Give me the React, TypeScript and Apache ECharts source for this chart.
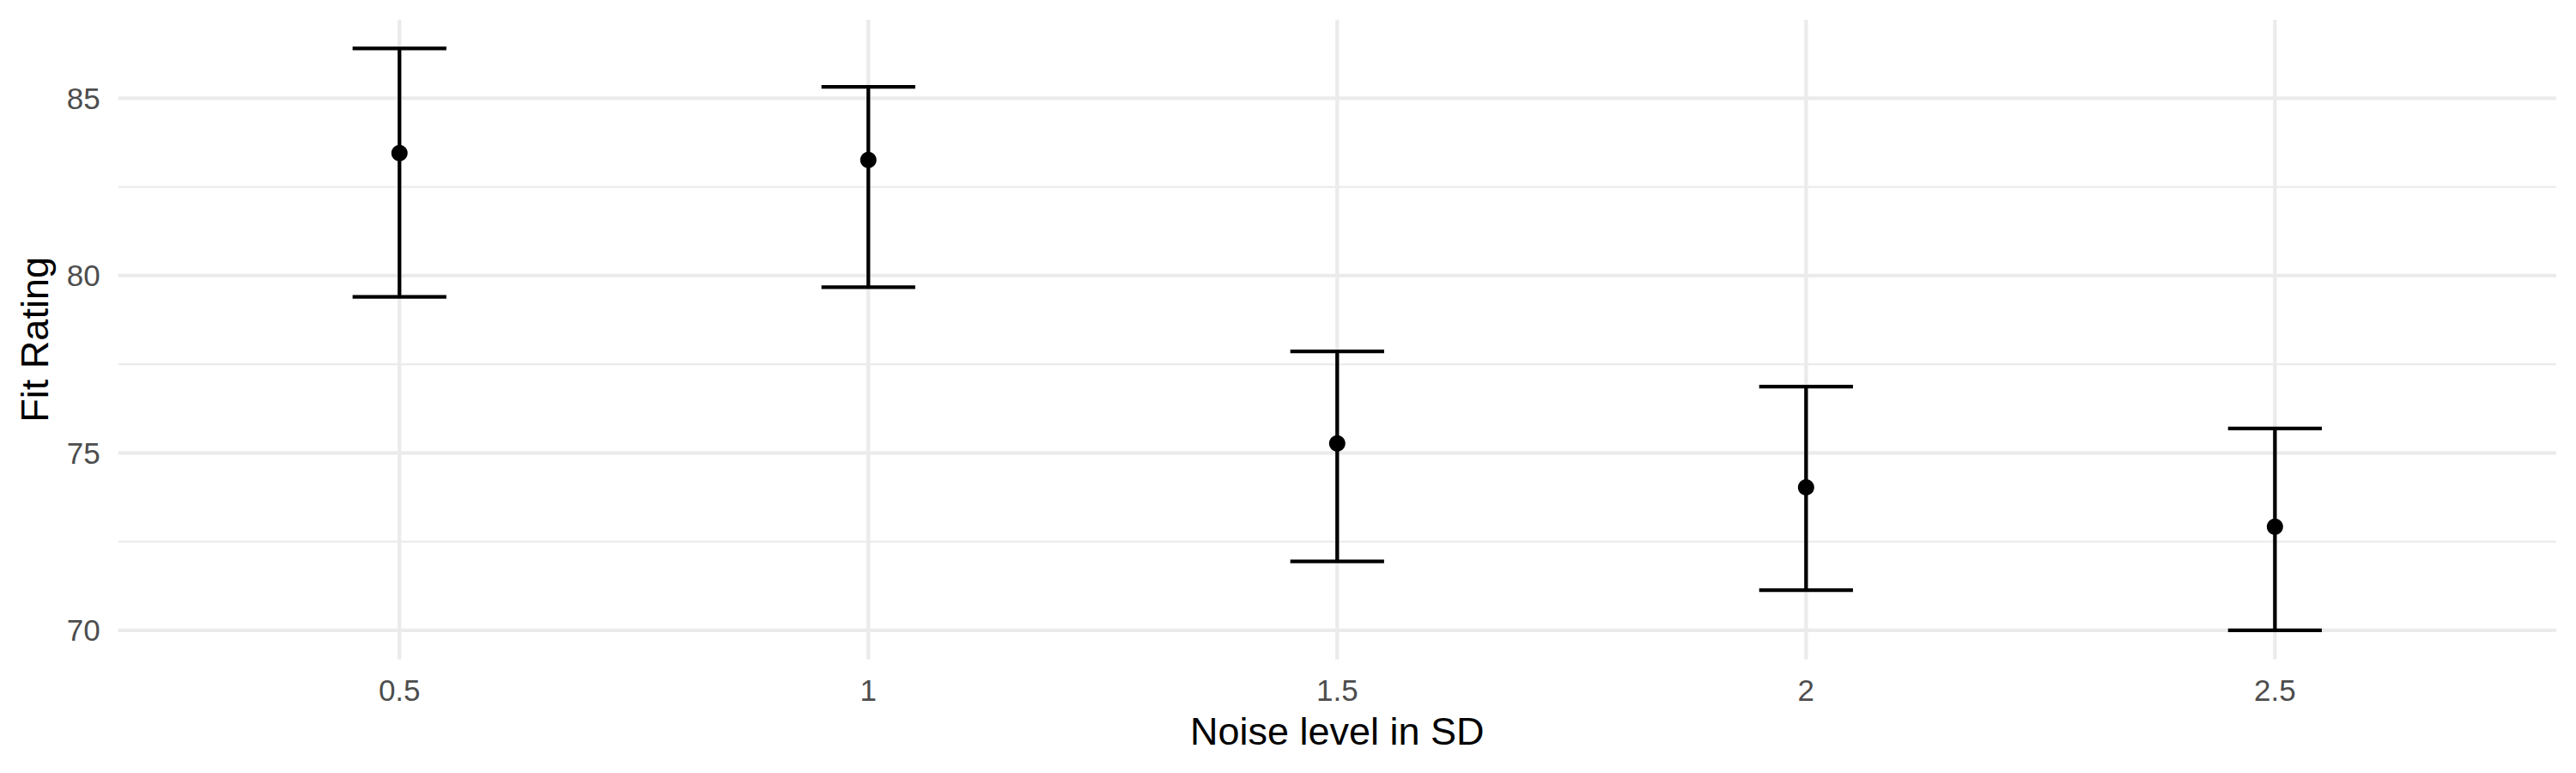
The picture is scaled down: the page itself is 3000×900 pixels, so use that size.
import React, { useEffect, useRef } from "react";
import * as echarts from "echarts";

// Data
const categories = ["0.5", "1", "1.5", "2", "2.5"];
const meanRating = [83.45, 83.26, 75.27, 74.03, 72.92];
const upperRating = [86.4, 85.32, 77.86, 76.87, 75.69];
const lowerRating = [79.4, 79.67, 71.94, 71.13, 70.0];
const yMajorTicks = [70, 75, 80, 85];
const yMinorTicks = [72.5, 77.5, 82.5];

const FONT = "'Liberation Sans', Arial, Helvetica, sans-serif";
const GRID_COLOR = "#EBEBEB";

export default function App() {
  const ref = useRef<HTMLDivElement>(null);

  useEffect(() => {
    const chart = echarts.init(ref.current!, null, { renderer: "svg" });
    const xPos = categories.map((_, i) => i + 1);

    const hGridData = [
      ...yMinorTicks.map((v) => [1, v, 2.2]),
      ...yMajorTicks.map((v) => [1, v, 4.3]),
    ];
    const vGridData = xPos.map((x) => [x, 80, 4.3]);
    const errData = xPos.map((x, i) => [x, lowerRating[i], upperRating[i]]);
    const pointData = xPos.map((x, i) => [x, meanRating[i]]);

    const option: any = {
      animation: false,
      backgroundColor: "#FFFFFF",
      grid: {
        left: 137.6,
        right: 23,
        top: 23,
        bottom: 132.3,
        containLabel: false,
        outerBoundsMode: "none",
      },
      xAxis: {
        type: "value",
        min: 0.4,
        max: 5.6,
        name: "Noise level in SD",
        nameLocation: "middle",
        nameGap: 61,
        nameTextStyle: { fontSize: 45, color: "#000000", fontFamily: FONT },
        axisLine: { show: false },
        axisTick: { show: false, customValues: xPos },
        splitLine: { show: false },
        axisLabel: {
          customValues: xPos,
          formatter: (v: number) => categories[Math.round(v) - 1] ?? "",
          fontSize: 35,
          color: "#4D4D4D",
          fontFamily: FONT,
          margin: 18,
        },
      },
      yAxis: {
        type: "value",
        min: 69.18,
        max: 87.21,
        name: "Fit Rating",
        nameLocation: "middle",
        nameGap: 75,
        nameTextStyle: { fontSize: 45, color: "#000000", fontFamily: FONT },
        axisLine: { show: false },
        axisTick: { show: false, customValues: yMajorTicks },
        splitLine: { show: false },
        axisLabel: {
          customValues: yMajorTicks,
          fontSize: 35,
          color: "#4D4D4D",
          fontFamily: FONT,
          margin: 21,
        },
      },
      series: [
        {
          type: "custom",
          name: "hgrid",
          silent: true,
          z: 1,
          data: hGridData,
          encode: { x: 0, y: 1 },
          renderItem: (params: any, api: any) => {
            const cs = params.coordSys;
            const y = api.coord([1, api.value(1)])[1];
            return {
              type: "line",
              shape: { x1: cs.x, y1: y, x2: cs.x + cs.width, y2: y },
              style: { stroke: GRID_COLOR, lineWidth: api.value(2) },
            };
          },
        },
        {
          type: "custom",
          name: "vgrid",
          silent: true,
          z: 1,
          data: vGridData,
          encode: { x: 0, y: 1 },
          renderItem: (params: any, api: any) => {
            const cs = params.coordSys;
            const x = api.coord([api.value(0), 80])[0];
            return {
              type: "line",
              shape: { x1: x, y1: cs.y, x2: x, y2: cs.y + cs.height },
              style: { stroke: GRID_COLOR, lineWidth: api.value(2) },
            };
          },
        },
        {
          type: "custom",
          name: "errorbars",
          silent: true,
          z: 5,
          data: errData,
          encode: { x: 0, y: [1, 2] },
          renderItem: (params: any, api: any) => {
            const x = api.value(0);
            const top = api.coord([x, api.value(2)]);
            const bot = api.coord([x, api.value(1)]);
            const half = api.size([0.1, 0])[0];
            const style = { stroke: "#000000", lineWidth: 4.3, fill: "none" };
            return {
              type: "group",
              children: [
                { type: "line", shape: { x1: top[0] - half, y1: top[1], x2: top[0] + half, y2: top[1] }, style },
                { type: "line", shape: { x1: top[0], y1: top[1], x2: bot[0], y2: bot[1] }, style },
                { type: "line", shape: { x1: bot[0] - half, y1: bot[1], x2: bot[0] + half, y2: bot[1] }, style },
              ],
            };
          },
        },
        {
          type: "scatter",
          name: "mean",
          silent: true,
          z: 6,
          symbol: "circle",
          symbolSize: 19,
          itemStyle: { color: "#000000", opacity: 1 },
          data: pointData,
        },
      ],
    };

    chart.setOption(option);
    return () => {
      chart.dispose();
    };
  }, []);

  return (
    <div
      ref={ref}
      style={{ position: "absolute", left: 0, top: 0, width: 3000, height: 900, background: "#FFFFFF" }}
    />
  );
}
